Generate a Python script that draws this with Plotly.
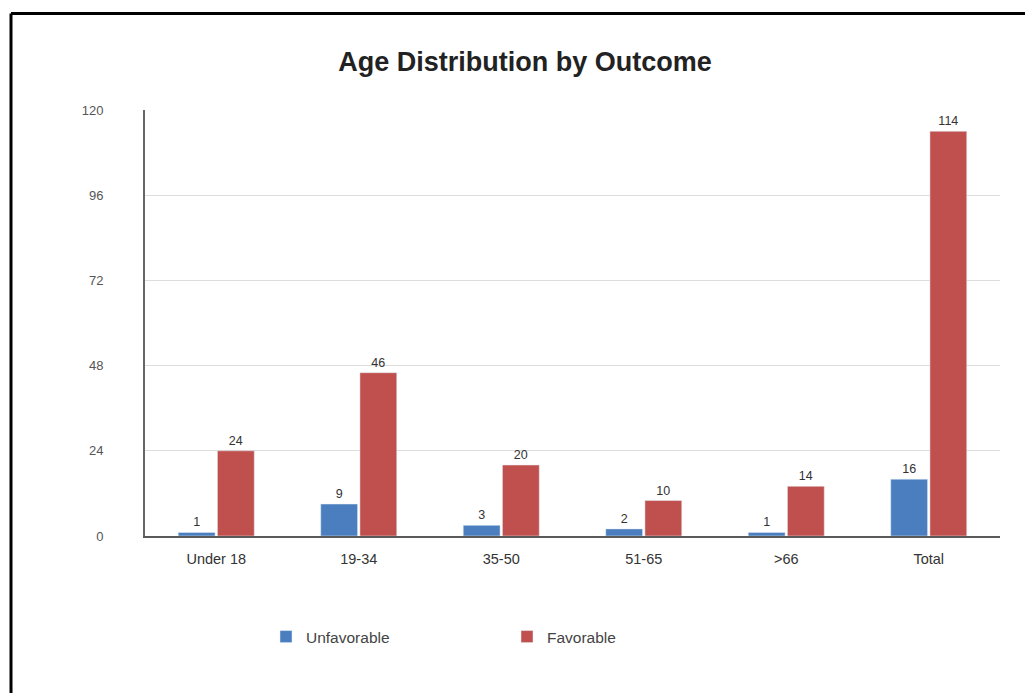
import plotly.graph_objects as go

# Age groups and outcome counts
categories = ["Under 18", "19-34", "35-50", "51-65", ">66", "Total"]
unfavorable = [1, 9, 3, 2, 1, 16]
favorable = [24, 46, 20, 10, 14, 114]
y_ticks = [0, 24, 48, 72, 96, 120]

BLUE = "#4a7ebf"
RED = "#c0504d"
FONT = "Liberation Sans, Arial, sans-serif"

# plot-area geometry in pixels (used to place the frame lines in paper units)
L, R, T, B = 145, 25, 110, 157
W, H = 1025, 693
pw, ph = W - L - R, H - T - B


def px_x(x):
    return (x - L) / pw


def px_y(y):
    return (H - B - y) / ph


fig = go.Figure()
fig.add_trace(go.Bar(
    name="Unfavorable", x=categories, y=unfavorable, marker_color=BLUE,
    text=unfavorable, textposition="outside", cliponaxis=False,
    textfont=dict(size=12.5, color="#333333", family=FONT),
))
fig.add_trace(go.Bar(
    name="Favorable", x=categories, y=favorable, marker_color=RED,
    text=favorable, textposition="outside", cliponaxis=False,
    textfont=dict(size=12.5, color="#333333", family=FONT),
))

fig.update_layout(
    width=W, height=H,
    margin=dict(l=L, r=R, t=T, b=B),
    paper_bgcolor="white", plot_bgcolor="white",
    barmode="group", bargap=0.45, bargroupgap=0.06,
    font=dict(family=FONT, color="#444444"),
    title=dict(
        text="<b>Age Distribution by Outcome</b>",
        x=px_x(525), xref="paper", xanchor="center",
        y=1 - 62 / H, yanchor="middle",
        font=dict(size=27, color="#222222", family=FONT),
    ),
    showlegend=True,
    legend=dict(
        orientation="h", x=px_x(266), xanchor="left",
        y=px_y(637), yanchor="middle",
        entrywidth=196, entrywidthmode="pixels",
        font=dict(size=15.5, color="#444444", family=FONT),
    ),
)

fig.update_xaxes(
    showgrid=False, showline=True, linecolor="#5a5a5a", linewidth=2,
    ticks="", tickfont=dict(size=14.5, color="#333333", family=FONT),
    ticklabelstandoff=9,
)
fig.update_yaxes(
    range=[0, 120], tickvals=y_ticks, ticktext=[str(v) for v in y_ticks],
    showgrid=True, gridcolor="#dddddd", gridwidth=1,
    showline=True, linecolor="#666666", linewidth=2,
    zeroline=False, ticks="",
    tickfont=dict(size=13, color="#555555", family=FONT),
    ticklabelstandoff=37,
)

# black frame lines along the left and top edges
frame_x = px_x(11)
frame_y = px_y(13.5)
fig.add_shape(type="line", xref="paper", yref="paper",
              x0=frame_x, x1=frame_x, y0=frame_y, y1=px_y(700),
              line=dict(color="black", width=3))
fig.add_shape(type="line", xref="paper", yref="paper",
              x0=frame_x, x1=px_x(1030), y0=frame_y, y1=frame_y,
              line=dict(color="black", width=3))

fig.write_html("out.html")
